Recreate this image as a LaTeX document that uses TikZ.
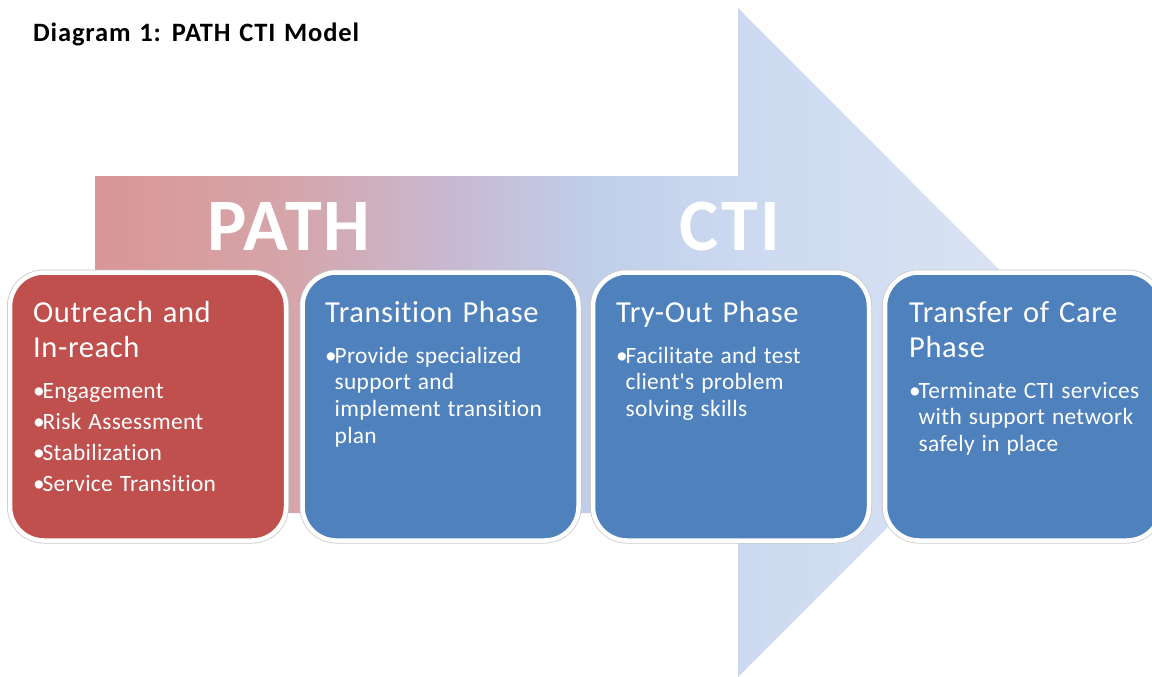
\documentclass[tikz,border=0pt]{standalone}
\usepackage{fontspec}
\setmainfont{Carlito}[Ligatures=NoCommon]
\newfontfamily\titlefam{Carlito}[Ligatures=NoCommon, LetterSpace=3.2]
\newfontfamily\headfam{Carlito}[Ligatures=NoCommon, LetterSpace=2.0]
\newfontfamily\bulfam{Carlito}[Ligatures=NoCommon, LetterSpace=1.3]
\newfontfamily\bigfam{Carlito}[Ligatures=NoCommon, LetterSpace=3]
\usetikzlibrary{calc}
\definecolor{boxred}{RGB}{192,80,77}
\definecolor{boxblue}{RGB}{79,129,189}
\definecolor{sA}{RGB}{217,150,150}
\definecolor{sB}{RGB}{213,165,170}
\definecolor{sC}{RGB}{200,185,210}
\definecolor{sD}{RGB}{192,207,234}
\definecolor{sE}{RGB}{204,217,240}
\definecolor{sF}{RGB}{212,223,242}
\definecolor{sG}{RGB}{220,229,245}
\pgfdeclarehorizontalshading{arrowshade}{100bp}{color(0bp)=(sA); color(25bp)=(sA); color(35bp)=(sB); color(43.2bp)=(sC); color(50.8bp)=(sD); color(58.5bp)=(sE); color(66.2bp)=(sF); color(75bp)=(sG); color(100bp)=(sG)}
\newcommand{\bitem}[1]{\par\noindent\hangindent=9.5pt\hangafter=1\makebox[9.5pt][l]{\textbullet}#1\par}
\newcommand{\headfont}{\headfam\fontsize{30.5}{35}\selectfont\spaceskip=0.33em\relax}
\newcommand{\bulfont}{\bulfam\fontsize{23.4}{26.7}\selectfont\spaceskip=0.3em\relax}
\newcommand{\titlefont}{\titlefam\bfseries\fontsize{26.5}{30}\selectfont\spaceskip=0.33em\relax}
\tikzset{
  phase/.style={rectangle, rounded corners=34pt, minimum width=276pt, minimum height=268pt,
    draw=white, line width=4.5pt, inner sep=0pt,
    preaction={draw=black!22, line width=6pt}},
  phasetext/.style={anchor=base west, text width=262pt, align=left, inner sep=0pt, text=white},
  bigword/.style={anchor=base, text=white, font=\bigfam\bfseries\fontsize{74}{74}\selectfont, inner sep=0pt}
}
\begin{document}
\begin{tikzpicture}[x=1pt,y=-1pt]
\useasboundingbox (0,0) rectangle (1152,677);
\clip (0,0) rectangle (1152,677);
% big arrow
\shade[shading=arrowshade] (95,176) -- (738,176) -- (738,8) -- (1072,342.5) -- (738,677) -- (738,513) -- (95,513) -- cycle;
% title
\node[anchor=base west, inner sep=0pt, font=\titlefont] (title) at (33,42) {Diagram 1: PATH CTI Model};
% big words
\node[bigword] (path) at (289,250) {PATH};
\node[bigword] (cti) at (730,250) {CTI};
% boxes
\node[phase, fill=boxred] (b1) at (148,406.5) {};
\node[phase, fill=boxblue] (b2) at (440.5,406.5) {};
\node[phase, fill=boxblue] (b3) at (731,406.5) {};
\node[phase, fill=boxblue] (b4) at (1023,406.5) {};
% texts
\node[phasetext] (t1) at (33,322) {{\headfont Outreach and\newline In-reach\par}\bulfont\vspace{14.3pt}%
\bitem{Engagement}\vspace{4.3pt}\bitem{Risk Assessment}\vspace{4.3pt}\bitem{Stabilization}\vspace{4.3pt}\bitem{Service Transition}};
\node[phasetext] (t2) at (325,322) {{\headfont Transition Phase\par}\bulfont\vspace{14.3pt}%
\bitem{Provide specialized\newline support and\newline implement transition\newline plan}};
\node[phasetext] (t3) at (616,322) {{\headfont Try-Out Phase\par}\bulfont\vspace{14.3pt}%
\bitem{Facilitate and test\newline client's problem\newline solving skills}};
\node[phasetext] (t4) at (909,322) {{\headfont Transfer of Care\newline Phase\par}\bulfont\vspace{14.3pt}%
\bitem{Terminate CTI services\newline with support network\newline safely in place}};
\end{tikzpicture}
\end{document}
